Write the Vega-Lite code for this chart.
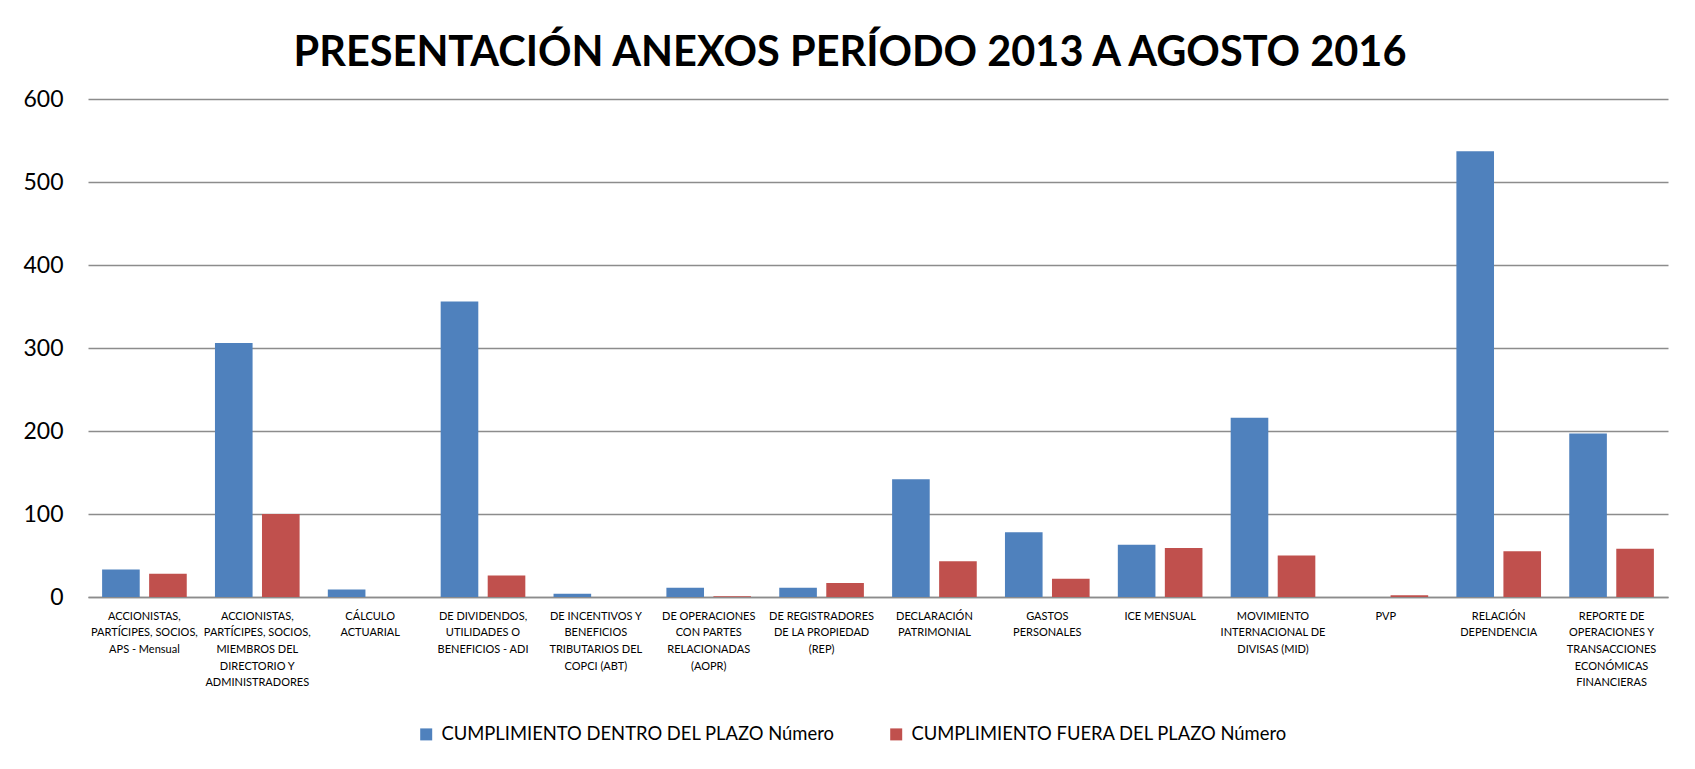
{
  "$schema": "https://vega.github.io/schema/vega-lite/v6.json",
  "autosize": {"type": "none"},
  "width": 1580,
  "height": 498,
  "padding": {"left": 88, "top": 99, "right": 27, "bottom": 172},
  "background": "white",
  "title": {
    "text": "PRESENTACIÓN ANEXOS PERÍODO 2013 A AGOSTO 2016",
    "font": "Lato",
    "fontSize": 41.5,
    "fontWeight": "bold",
    "color": "black",
    "anchor": "middle",
    "frame": "group",
    "baseline": "alphabetic",
    "offset": -19,
    "dx": -28
  },
  "data": {
    "values": [
      {"cat": "ACCIONISTAS,|PARTÍCIPES, SOCIOS,|APS - Mensual", "serie": "CUMPLIMIENTO DENTRO DEL PLAZO Número", "valor": 33},
      {"cat": "ACCIONISTAS,|PARTÍCIPES, SOCIOS,|APS - Mensual", "serie": "CUMPLIMIENTO FUERA DEL PLAZO Número", "valor": 28},
      {"cat": "ACCIONISTAS,|PARTÍCIPES, SOCIOS,|MIEMBROS DEL|DIRECTORIO Y|ADMINISTRADORES", "serie": "CUMPLIMIENTO DENTRO DEL PLAZO Número", "valor": 306},
      {"cat": "ACCIONISTAS,|PARTÍCIPES, SOCIOS,|MIEMBROS DEL|DIRECTORIO Y|ADMINISTRADORES", "serie": "CUMPLIMIENTO FUERA DEL PLAZO Número", "valor": 100},
      {"cat": "CÁLCULO|ACTUARIAL", "serie": "CUMPLIMIENTO DENTRO DEL PLAZO Número", "valor": 9},
      {"cat": "CÁLCULO|ACTUARIAL", "serie": "CUMPLIMIENTO FUERA DEL PLAZO Número", "valor": 0},
      {"cat": "DE DIVIDENDOS,|UTILIDADES O|BENEFICIOS - ADI", "serie": "CUMPLIMIENTO DENTRO DEL PLAZO Número", "valor": 356},
      {"cat": "DE DIVIDENDOS,|UTILIDADES O|BENEFICIOS - ADI", "serie": "CUMPLIMIENTO FUERA DEL PLAZO Número", "valor": 26},
      {"cat": "DE INCENTIVOS Y|BENEFICIOS|TRIBUTARIOS DEL|COPCI (ABT)", "serie": "CUMPLIMIENTO DENTRO DEL PLAZO Número", "valor": 4},
      {"cat": "DE INCENTIVOS Y|BENEFICIOS|TRIBUTARIOS DEL|COPCI (ABT)", "serie": "CUMPLIMIENTO FUERA DEL PLAZO Número", "valor": 0},
      {"cat": "DE OPERACIONES|CON PARTES|RELACIONADAS|(AOPR)", "serie": "CUMPLIMIENTO DENTRO DEL PLAZO Número", "valor": 11},
      {"cat": "DE OPERACIONES|CON PARTES|RELACIONADAS|(AOPR)", "serie": "CUMPLIMIENTO FUERA DEL PLAZO Número", "valor": 1},
      {"cat": "DE REGISTRADORES|DE LA PROPIEDAD|(REP)", "serie": "CUMPLIMIENTO DENTRO DEL PLAZO Número", "valor": 11},
      {"cat": "DE REGISTRADORES|DE LA PROPIEDAD|(REP)", "serie": "CUMPLIMIENTO FUERA DEL PLAZO Número", "valor": 17},
      {"cat": "DECLARACIÓN|PATRIMONIAL", "serie": "CUMPLIMIENTO DENTRO DEL PLAZO Número", "valor": 142},
      {"cat": "DECLARACIÓN|PATRIMONIAL", "serie": "CUMPLIMIENTO FUERA DEL PLAZO Número", "valor": 43},
      {"cat": "GASTOS|PERSONALES", "serie": "CUMPLIMIENTO DENTRO DEL PLAZO Número", "valor": 78},
      {"cat": "GASTOS|PERSONALES", "serie": "CUMPLIMIENTO FUERA DEL PLAZO Número", "valor": 22},
      {"cat": "ICE MENSUAL", "serie": "CUMPLIMIENTO DENTRO DEL PLAZO Número", "valor": 63},
      {"cat": "ICE MENSUAL", "serie": "CUMPLIMIENTO FUERA DEL PLAZO Número", "valor": 59},
      {"cat": "MOVIMIENTO|INTERNACIONAL DE|DIVISAS (MID)", "serie": "CUMPLIMIENTO DENTRO DEL PLAZO Número", "valor": 216},
      {"cat": "MOVIMIENTO|INTERNACIONAL DE|DIVISAS (MID)", "serie": "CUMPLIMIENTO FUERA DEL PLAZO Número", "valor": 50},
      {"cat": "PVP", "serie": "CUMPLIMIENTO DENTRO DEL PLAZO Número", "valor": 0},
      {"cat": "PVP", "serie": "CUMPLIMIENTO FUERA DEL PLAZO Número", "valor": 2},
      {"cat": "RELACIÓN|DEPENDENCIA", "serie": "CUMPLIMIENTO DENTRO DEL PLAZO Número", "valor": 537},
      {"cat": "RELACIÓN|DEPENDENCIA", "serie": "CUMPLIMIENTO FUERA DEL PLAZO Número", "valor": 55},
      {"cat": "REPORTE DE|OPERACIONES Y|TRANSACCIONES|ECONÓMICAS|FINANCIERAS", "serie": "CUMPLIMIENTO DENTRO DEL PLAZO Número", "valor": 197},
      {"cat": "REPORTE DE|OPERACIONES Y|TRANSACCIONES|ECONÓMICAS|FINANCIERAS", "serie": "CUMPLIMIENTO FUERA DEL PLAZO Número", "valor": 58}
    ]
  },
  "mark": {"type": "bar"},
  "encoding": {
    "x": {
      "field": "cat",
      "type": "nominal",
      "sort": null,
      "scale": {"paddingInner": 0.25, "paddingOuter": 0.125},
      "axis": {
        "title": null,
        "labelAngle": 0,
        "labelExpr": "split(datum.value, '|')",
        "labelFont": "Lato",
        "labelFontSize": 11,
        "labelColor": "black",
        "labelLineHeight": 16.7,
        "labelPadding": 13,
        "labelLimit": 0,
        "labelBaseline": "top",
        "ticks": false,
        "domain": true,
        "domainColor": "#8c8c8c",
        "domainWidth": 1.5,
        "grid": false
      }
    },
    "xOffset": {
      "field": "serie",
      "type": "nominal",
      "sort": ["CUMPLIMIENTO DENTRO DEL PLAZO Número", "CUMPLIMIENTO FUERA DEL PLAZO Número"],
      "scale": {"paddingInner": 0.2, "paddingOuter": 0}
    },
    "y": {
      "field": "valor",
      "type": "quantitative",
      "scale": {"domain": [0, 600], "nice": false},
      "axis": {
        "title": null,
        "values": [0, 100, 200, 300, 400, 500, 600],
        "labelFont": "Lato",
        "labelFontSize": 23,
        "labelColor": "black",
        "labelPadding": 25,
        "ticks": false,
        "domain": false,
        "grid": true,
        "gridColor": "#8c8c8c",
        "gridWidth": 1.5
      }
    },
    "color": {
      "field": "serie",
      "type": "nominal",
      "sort": ["CUMPLIMIENTO DENTRO DEL PLAZO Número", "CUMPLIMIENTO FUERA DEL PLAZO Número"],
      "scale": {"range": ["#4F81BD", "#C0504D"]},
      "legend": {
        "title": null,
        "orient": "none",
        "direction": "horizontal",
        "legendX": 329,
        "legendY": 626,
        "symbolType": "square",
        "symbolSize": 144,
        "symbolStrokeWidth": 0,
        "symbolOpacity": 1,
        "labelFont": "Lato",
        "labelFontSize": 18.4,
        "labelColor": "black",
        "labelOffset": 6,
        "labelLimit": 0,
        "columnPadding": 52,
        "padding": 0
      }
    }
  },
  "config": {
    "view": {"stroke": null}
  }
}
